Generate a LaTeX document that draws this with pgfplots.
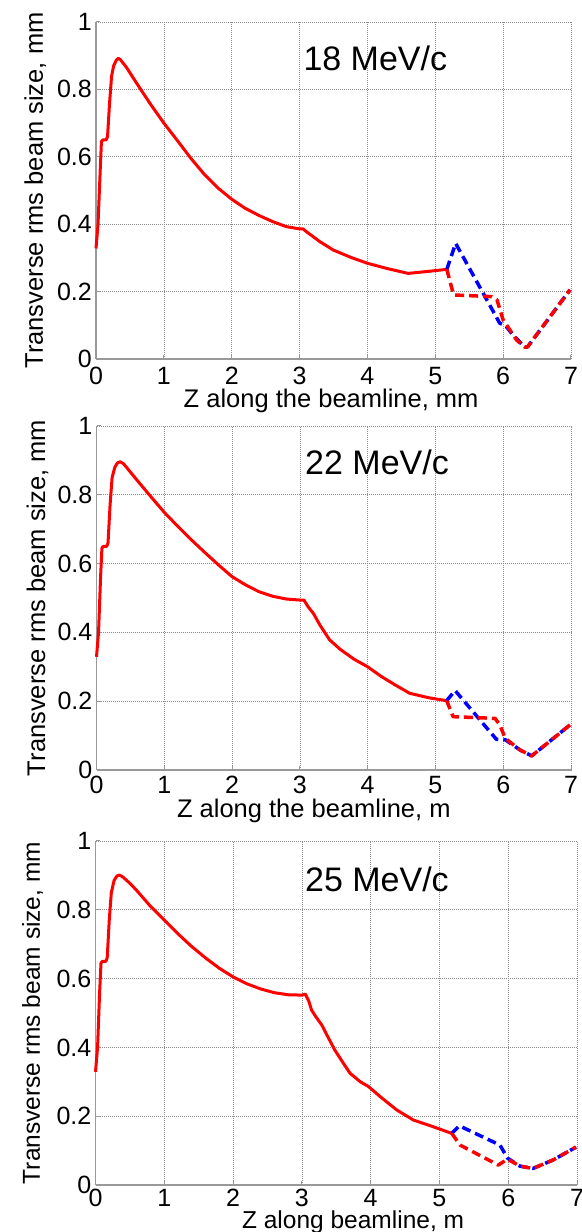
\documentclass[border=0pt]{standalone}
\usepackage{fontspec}
\setmainfont{Liberation Sans}
\usepackage{pgfplots}
\pgfplotsset{compat=1.18}

% common look of the three beam-size panels
\pgfplotsset{
  beamaxis/.style={
    scale only axis,
    anchor=south west,
    xmin=0, xmax=7, ymin=0, ymax=1,
    xtick={0,1,2,3,4,5,6,7},
    ytick={0,0.2,0.4,0.6,0.8,1},
    axis x line*=bottom, axis y line*=left,
    axis line style={draw=black!40, line width=1.1bp},
    tick align=inside,
    major tick length=4bp,
    tick style={draw=black!40, line width=1bp},
    grid=major,
    grid style={draw=black!45, line width=0.7bp, dash pattern=on 0.8bp off 1.2bp},
    /pgf/number format/assume math mode=true,
    ticklabel style={font=\fontsize{25bp}{30bp}\selectfont},
    yticklabel style={anchor=east, inner sep=0pt, xshift=-4bp},
    xticklabel style={anchor=north, inner sep=0pt, yshift=-8bp},
    label style={font=\fontsize{25.5bp}{30bp}\selectfont, inner sep=0pt},
    clip=false,
  },
  solidred/.style={draw=red, line width=3bp, line join=round},
  dashred/.style={draw=red, line width=3.5bp, line join=round, dash pattern=on 9bp off 5bp},
  dashblue/.style={draw=blue, line width=3.5bp, line join=round, dash pattern=on 9bp off 5bp},
}
\tikzset{
  momlabel/.style={font=\fontsize{34bp}{40bp}\selectfont, inner sep=0pt, anchor=base west},
}

\begin{document}
\begin{tikzpicture}
\useasboundingbox (0,0) rectangle (582bp,1232bp);

% ---------------- 18 MeV/c ----------------
\begin{axis}[beamaxis,
  at={(96bp,873bp)}, width=475bp, height=337bp,
  xlabel={Z along the beamline, mm},
  ylabel={Transverse rms beam size, mm},
  xlabel style={at={(axis description cs:0.495,-0.1454)}, anchor=base},
  ylabel style={at={(axis description cs:-0.1116,0.5)}, anchor=base},
]
\addplot[solidred] coordinates {
 (0,0.328) (0.03,0.40) (0.06,0.55) (0.08,0.645) (0.10,0.65) (0.15,0.65)
 (0.17,0.66) (0.20,0.76) (0.23,0.84) (0.26,0.87) (0.30,0.887) (0.33,0.892)
 (0.36,0.888) (0.45,0.865) (0.6,0.818) (0.8,0.757) (1.0,0.70) (1.2,0.648)
 (1.4,0.595) (1.6,0.547) (1.8,0.507) (2.0,0.474) (2.2,0.447) (2.4,0.426)
 (2.6,0.408) (2.8,0.393) (3.0,0.386) (3.05,0.386) (3.1,0.378) (3.2,0.363)
 (3.3,0.348) (3.5,0.323) (3.75,0.302) (4.0,0.284) (4.3,0.268) (4.6,0.254)
 (4.9,0.260) (5.17,0.266)
};
\addplot[dashblue] coordinates {
 (5.17,0.266) (5.30,0.343) (5.95,0.106) (6.03,0.10) (6.15,0.07)
 (6.32,0.035) (6.36,0.036) (6.985,0.205)
};
\addplot[dashred] coordinates {
 (5.17,0.266) (5.27,0.19) (5.83,0.185) (5.91,0.175) (6.0,0.116)
 (6.2,0.056) (6.32,0.035) (6.36,0.036) (6.985,0.205)
};
\node[momlabel] at (axis cs:3.055,0.8555) {18 MeV/c};
\end{axis}

% ---------------- 22 MeV/c ----------------
\begin{axis}[beamaxis,
  at={(96.5bp,462bp)}, width=474.5bp, height=344bp,
  xlabel={Z along the beamline, m},
  ylabel={Transverse rms beam size, mm},
  xticklabel style={yshift=2bp},
  xlabel style={at={(axis description cs:0.458,-0.139)}, anchor=base},
  ylabel style={at={(axis description cs:-0.1085,0.5)}, anchor=base},
]
\addplot[solidred] coordinates {
 (0,0.329) (0.03,0.40) (0.06,0.56) (0.08,0.645) (0.10,0.65) (0.15,0.65)
 (0.17,0.66) (0.20,0.77) (0.23,0.85) (0.27,0.88) (0.31,0.893) (0.35,0.896)
 (0.4,0.89) (0.5,0.866) (0.6,0.842) (0.8,0.795) (1.0,0.749) (1.2,0.708)
 (1.4,0.669) (1.6,0.632) (1.8,0.596) (2.0,0.562) (2.2,0.538) (2.4,0.518)
 (2.6,0.505) (2.8,0.497) (3.0,0.494) (3.06,0.494) (3.12,0.475) (3.2,0.455)
 (3.3,0.42) (3.44,0.378) (3.6,0.35) (3.8,0.322) (4.0,0.30) (4.2,0.272)
 (4.4,0.248) (4.62,0.223) (4.9,0.21) (5.166,0.2015)
};
\addplot[dashblue] coordinates {
 (5.166,0.2015) (5.29,0.231) (5.90,0.089) (6.03,0.088) (6.25,0.058)
 (6.42,0.041) (6.985,0.131)
};
\addplot[dashred] coordinates {
 (5.166,0.2015) (5.26,0.155) (5.88,0.150) (5.95,0.131) (6.03,0.092)
 (6.25,0.058) (6.42,0.041) (6.985,0.131)
};
\node[momlabel] at (axis cs:3.076,0.860) {22 MeV/c};
\end{axis}

% ---------------- 25 MeV/c ----------------
\begin{axis}[beamaxis,
  at={(95.5bp,47bp)}, width=481.5bp, height=344bp,
  xlabel={Z along beamline, m},
  ylabel={Transverse rms beam size, mm},
  label style={font=\fontsize{24.5bp}{30bp}\selectfont},
  xticklabel style={yshift=4bp},
  xlabel style={at={(axis description cs:0.535,-0.127)}, anchor=base},
  ylabel style={at={(axis description cs:-0.1153,0.5)}, anchor=base},
]
\addplot[solidred] coordinates {
 (0,0.329) (0.03,0.40) (0.06,0.56) (0.08,0.645) (0.10,0.65) (0.15,0.65)
 (0.17,0.66) (0.20,0.77) (0.23,0.85) (0.27,0.885) (0.31,0.898) (0.35,0.901)
 (0.4,0.895) (0.5,0.877) (0.6,0.856) (0.8,0.81) (1.0,0.77) (1.2,0.73)
 (1.4,0.693) (1.6,0.66) (1.8,0.63) (2.0,0.605) (2.2,0.585) (2.4,0.57)
 (2.6,0.559) (2.8,0.553) (3.0,0.552) (3.05,0.555) (3.1,0.535) (3.14,0.509)
 (3.2,0.49) (3.29,0.465) (3.38,0.43) (3.48,0.392) (3.6,0.355) (3.70,0.325)
 (3.85,0.30) (3.97,0.286) (4.15,0.255) (4.38,0.218) (4.62,0.189) (4.9,0.17)
 (5.18,0.150)
};
\addplot[dashblue] coordinates {
 (5.18,0.150) (5.29,0.172) (5.88,0.116) (5.99,0.078) (6.17,0.055)
 (6.36,0.048) (6.655,0.073) (6.985,0.110)
};
\addplot[dashred] coordinates {
 (5.18,0.150) (5.30,0.116) (5.855,0.058) (5.99,0.075) (6.17,0.055)
 (6.36,0.048) (6.655,0.073) (6.985,0.110)
};
\node[momlabel] at (axis cs:3.045,0.853) {25 MeV/c};
\end{axis}
\end{tikzpicture}
\end{document}
